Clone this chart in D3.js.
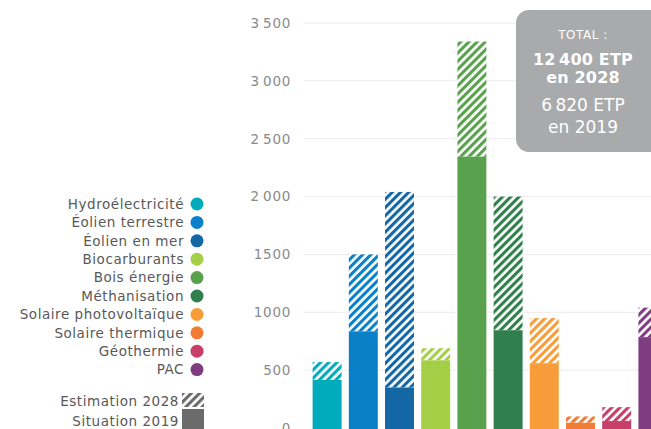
<!DOCTYPE html>
<html>
<head>
<meta charset="utf-8">
<script src="https://cdn.jsdelivr.net/npm/d3@7"></script>
<style>
  html, body { margin: 0; padding: 0; background: #fff; overflow: hidden; }
  svg { display: block; font-family: "DejaVu Sans", sans-serif; }
</style>
</head>
<body>
<svg id="chart" width="651" height="429"></svg>
<script>
// ---- data ----
const categories = ["Hydroélectricité", "Éolien terrestre", "Éolien en mer", "Biocarburants",
  "Bois énergie", "Méthanisation", "Solaire photovoltaïque", "Solaire thermique", "Géothermie", "PAC"];
const situation2019 = [415, 835, 350, 585, 2345, 845, 560, 45, 60, 785];
const estimation2028 = [570, 1500, 2040, 690, 3340, 2000, 950, 100, 180, 1040];
const colors = ["#00abbb", "#0a80c8", "#1467a5", "#a6cf48", "#5aa14d", "#317f4c", "#f69d3a", "#f17d35", "#c73e69", "#7f3c80"];
const yTicks = [0, 500, 1000, 1500, 2000, 2500, 3000, 3500];
const yTickLabels = ["0", "500", "1000", "1500", "2\u2009000", "2\u2009500", "3\u2009000", "3\u2009500"];
const legendExtra = ["Estimation 2028", "Situation 2019"];
const totalLines = ["TOTAL :", "12\u2009400 ETP", "en 2028", "6\u2009820 ETP", "en 2019"];

const svg = d3.select("#chart");

const y = d3.scaleLinear().domain([0, 3500]).range([428, 23]);
const x = d3.scaleBand().domain(categories).range([309, 671]).paddingInner(0.2).paddingOuter(0.1);

// hatch patterns
const defs = svg.append("defs");
function hatch(id, color) {
  const p = defs.append("pattern").attr("id", id).attr("patternUnits", "userSpaceOnUse")
    .attr("width", 5.8).attr("height", 5.8).attr("patternTransform", "rotate(45)");
  p.append("rect").attr("width", 5.8).attr("height", 5.8).attr("fill", "#fff");
  p.append("rect").attr("width", 3.1).attr("height", 5.8).attr("fill", color);
}
colors.forEach((c, i) => hatch("h" + i, c));
hatch("hgray", "#6b6b6b");

// gridlines
svg.append("g").selectAll("line").data(yTicks.slice(1)).join("line")
  .attr("x1", 304).attr("x2", 651)
  .attr("y1", d => y(d)).attr("y2", d => y(d))
  .attr("stroke", "#ececec").attr("stroke-width", 1);

// y-axis labels via d3 axis
const yAxis = d3.axisLeft(y).tickValues(yTicks).tickSize(0).tickPadding(0)
  .tickFormat((d, i) => yTickLabels[i]);
const ga = svg.append("g").attr("transform", "translate(291,0)").call(yAxis);
ga.select(".domain").remove();
ga.selectAll("text").attr("fill", "#8a8a8a").style("font-size", "13.5px")
  .style("font-family", "'DejaVu Sans', sans-serif").attr("letter-spacing", "0.7");

// bars
const bars = svg.append("g");
categories.forEach((c, i) => {
  bars.append("rect").attr("x", x(c)).attr("width", x.bandwidth())
    .attr("y", y(estimation2028[i])).attr("height", y(situation2019[i]) - y(estimation2028[i]))
    .attr("fill", `url(#h${i})`);
  bars.append("rect").attr("x", x(c)).attr("width", x.bandwidth())
    .attr("y", y(situation2019[i])).attr("height", y(0) - y(situation2019[i]) + 2)
    .attr("fill", colors[i]);
});

// legend
const lg = svg.append("g");
const legendStyle = sel => sel.attr("text-anchor", "end").attr("fill", "#585858")
  .style("font-size", "13.5px").attr("letter-spacing", "0.55").attr("dy", "0.35em");
categories.forEach((c, i) => {
  const yy = 204 + i * 18.4;
  lg.append("text").attr("x", 184).attr("y", yy).call(legendStyle).text(c);
  lg.append("circle").attr("cx", 197).attr("cy", yy).attr("r", 6.5).attr("fill", colors[i]);
});
lg.append("text").attr("x", 179).attr("y", 401).call(legendStyle).text(legendExtra[0]);
lg.append("text").attr("x", 179).attr("y", 421).call(legendStyle).text(legendExtra[1]);
lg.append("rect").attr("x", 182).attr("y", 393).attr("width", 22).attr("height", 14).attr("fill", "url(#hgray)");
lg.append("rect").attr("x", 182).attr("y", 409).attr("width", 22).attr("height", 20).attr("fill", "#6b6b6b");

// total box
const tb = svg.append("g");
tb.append("rect").attr("x", 516).attr("y", 10).attr("width", 160).attr("height", 142).attr("rx", 13)
  .attr("fill", "#a8aaac");
const tcx = 583;
tb.append("text").attr("x", tcx).attr("y", 39).attr("text-anchor", "middle").attr("fill", "#fff")
  .style("font-size", "12px").attr("letter-spacing", "0.5").text(totalLines[0]);
tb.append("text").attr("x", tcx).attr("y", 65).attr("text-anchor", "middle").attr("fill", "#fff")
  .style("font-size", "16px").style("font-weight", "bold").attr("letter-spacing", "0.2").text(totalLines[1]);
tb.append("text").attr("x", tcx).attr("y", 83).attr("text-anchor", "middle").attr("fill", "#fff")
  .style("font-size", "16px").style("font-weight", "bold").attr("letter-spacing", "0.2").text(totalLines[2]);
tb.append("text").attr("x", tcx).attr("y", 111).attr("text-anchor", "middle").attr("fill", "#fff")
  .style("font-size", "17px").text(totalLines[3]);
tb.append("text").attr("x", tcx).attr("y", 133).attr("text-anchor", "middle").attr("fill", "#fff")
  .style("font-size", "17px").text(totalLines[4]);
</script>
</body>
</html>
